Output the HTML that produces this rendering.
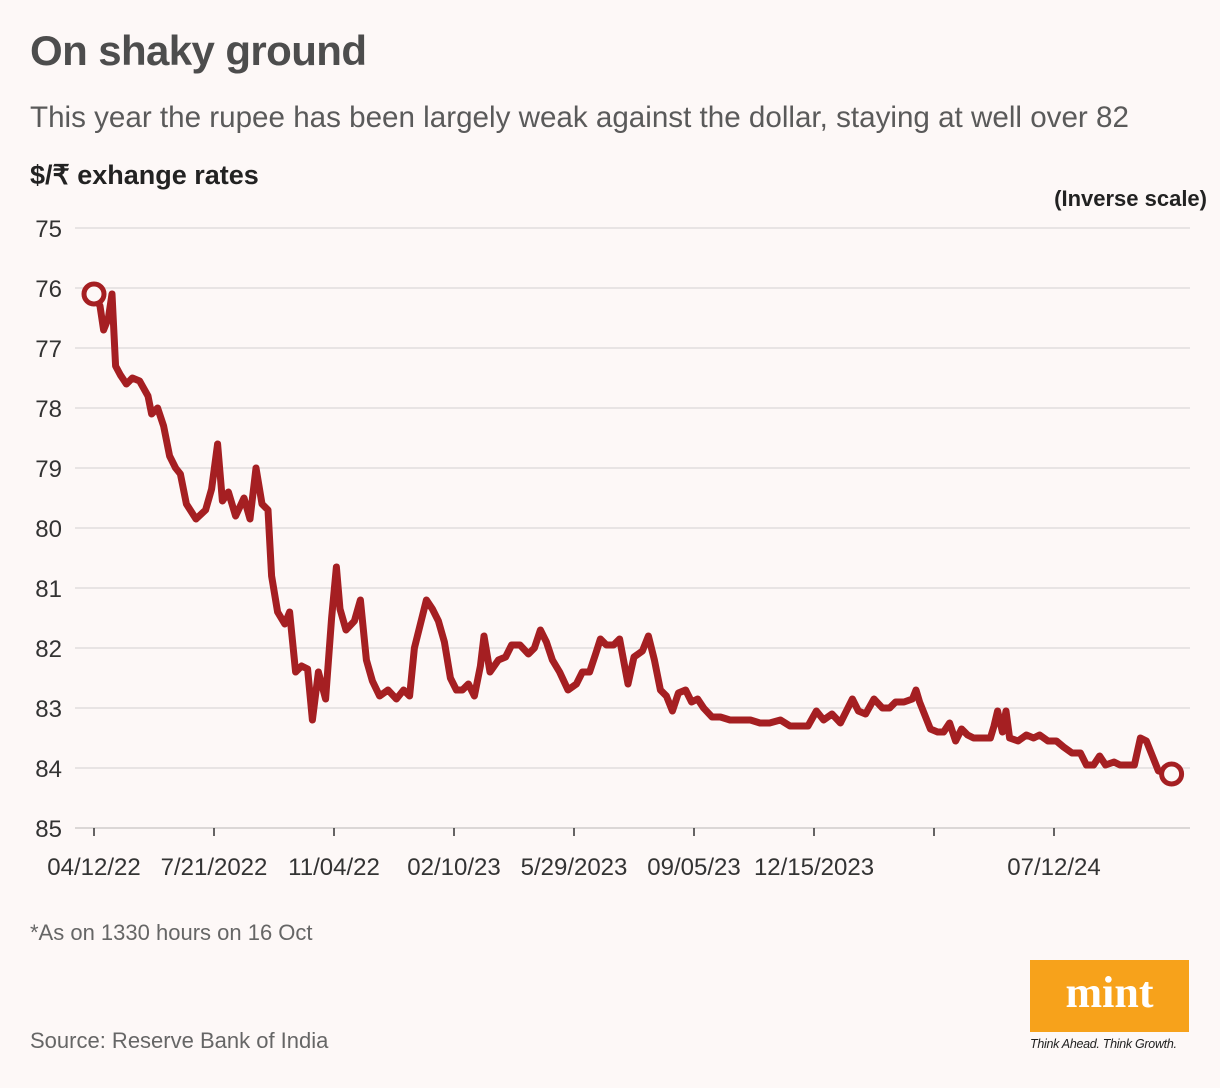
<!DOCTYPE html>
<html><head><meta charset="utf-8"><style>
body{margin:0;background:#fdf8f7;}
#wrap{position:relative;width:1220px;height:1088px;background:#fdf8f7;font-family:"Liberation Sans",sans-serif;overflow:hidden}
.t{position:absolute;white-space:nowrap}
</style></head><body>
<div id="wrap">
<div class="t" style="left:30px;top:27px;font-size:42px;font-weight:bold;color:#4d4d4d;letter-spacing:-0.6px">On shaky ground</div>
<div class="t" style="left:30px;top:101px;font-size:29.6px;color:#5a5a5a">This year the rupee has been largely weak against the dollar, staying at well over 82</div>
<div class="t" style="left:30px;top:160px;font-size:27px;font-weight:bold;color:#222">$/₹ exhange rates</div>
<div class="t" style="right:13px;top:186px;font-size:22px;font-weight:bold;color:#222">(Inverse scale)</div>
<svg id="chart" width="1220" height="1088" style="position:absolute;left:0;top:0"></svg>
<div class="t" style="left:30px;top:920px;font-size:22px;color:#666">*As on 1330 hours on 16 Oct</div>
<div class="t" style="left:30px;top:1028px;font-size:22px;color:#666">Source: Reserve Bank of India</div>
<div style="position:absolute;left:1030px;top:960px;width:159px;height:72px;background:#f7a21b;color:#fff;font-family:'Liberation Serif',serif;font-weight:bold;font-size:44px;text-align:center;line-height:66px">mint</div>
<div class="t" style="left:1030px;top:1037px;font-size:12.5px;font-style:italic;color:#222;letter-spacing:-0.3px">Think Ahead. Think Growth.</div>
</div>
<script>
const yTicks=[75,76,77,78,79,80,81,82,83,84,85];
const xTickDays=[0,100,200,300,400,500,600,700,800];
const xTickLabels=["04/12/22","7/21/2022","11/04/22","02/10/23","5/29/2023","09/05/23","12/15/2023","","07/12/24"];
const days=[0,5,8,12,15,18,22,27,32,38,45,48,53,58,63,68,72,77,85,93,98,103,107,112,118,125,130,135,140,145,148,153,159,163,168,173,178,182,187,193,198,202,205,210,217,222,227,232,238,245,252,258,263,267,272,277,282,287,292,297,302,307,312,317,322,325,330,337,343,348,355,362,367,372,377,382,388,395,402,407,413,418,422,427,433,438,445,450,457,462,467,472,477,482,487,493,498,503,508,515,522,530,538,547,555,563,572,580,588,595,602,608,615,622,627,632,637,643,650,657,663,668,675,682,685,688,697,703,708,713,718,723,728,733,740,747,750,753,757,760,763,770,777,783,788,795,802,808,815,822,827,833,838,843,850,855,862,867,872,877,882,887,898];
const rates=[76.1,76.3,76.7,76.5,76.1,77.3,77.45,77.6,77.5,77.55,77.8,78.1,78.0,78.3,78.8,79.0,79.1,79.6,79.85,79.7,79.35,78.6,79.55,79.4,79.8,79.5,79.85,79.0,79.6,79.7,80.8,81.4,81.6,81.4,82.4,82.3,82.35,83.2,82.4,82.85,81.5,80.65,81.35,81.7,81.55,81.2,82.2,82.55,82.8,82.7,82.85,82.7,82.8,82.0,81.6,81.2,81.35,81.55,81.9,82.5,82.7,82.7,82.6,82.8,82.3,81.8,82.4,82.2,82.15,81.95,81.95,82.1,82.0,81.7,81.9,82.2,82.4,82.7,82.6,82.4,82.4,82.1,81.85,81.95,81.95,81.85,82.6,82.15,82.05,81.8,82.2,82.7,82.8,83.05,82.75,82.7,82.9,82.85,83.0,83.15,83.15,83.2,83.2,83.2,83.25,83.25,83.2,83.3,83.3,83.3,83.05,83.2,83.1,83.25,83.05,82.85,83.05,83.1,82.85,83.0,83.0,82.9,82.9,82.85,82.7,82.9,83.35,83.4,83.4,83.25,83.55,83.35,83.45,83.5,83.5,83.5,83.3,83.05,83.4,83.05,83.5,83.55,83.45,83.5,83.45,83.55,83.55,83.65,83.75,83.75,83.95,83.95,83.8,83.95,83.9,83.95,83.95,83.95,83.5,83.55,83.8,84.05,84.1];
const svg=document.getElementById('chart');
const NS='http://www.w3.org/2000/svg';
const X0=94,PXD=1.2,Y0=228,PXU=60;
const xs=d=>X0+d*PXD;
const ys=v=>Y0+(v-75)*PXU;
function mk(tag,attrs){const e=document.createElementNS(NS,tag);for(const k in attrs)e.setAttribute(k,attrs[k]);svg.appendChild(e);return e;}
yTicks.forEach(v=>{
  const g=mk('line',{x1:75,x2:1190,y1:ys(v),y2:ys(v),stroke:v===85?'#d0cccc':'#e2dddd','stroke-width':1.5});
  
  
  const t=mk('text',{x:62,y:ys(v)+9,'text-anchor':'end','font-size':24,fill:'#333','font-family':'Liberation Sans, sans-serif'});
  t.textContent=v;
  
  
});
xTickDays.forEach((d,i)=>{
  const l=mk('line',{x1:xs(d),x2:xs(d),y1:828,y2:836,stroke:'#333','stroke-width':1.5});
  
  
  const t=mk('text',{x:xs(d),y:875,'text-anchor':'middle','font-size':24,fill:'#333','font-family':'Liberation Sans, sans-serif'});
  t.textContent=xTickLabels[i];
  
  
});
const p=mk('path',{d:days.map((d,i)=>(i?'L':'M')+xs(d).toFixed(1)+' '+ys(rates[i]).toFixed(1)).join(' '),fill:'none',stroke:'#a51f22','stroke-width':7,'stroke-linejoin':'round','stroke-linecap':'round'});


[0,days.length-1].forEach(i=>{
  const c=mk('circle',{cx:xs(days[i]),cy:ys(rates[i]),r:10,fill:'#fdf8f7',stroke:'#a51f22','stroke-width':5});
  
  
});
</script>
</body></html>
